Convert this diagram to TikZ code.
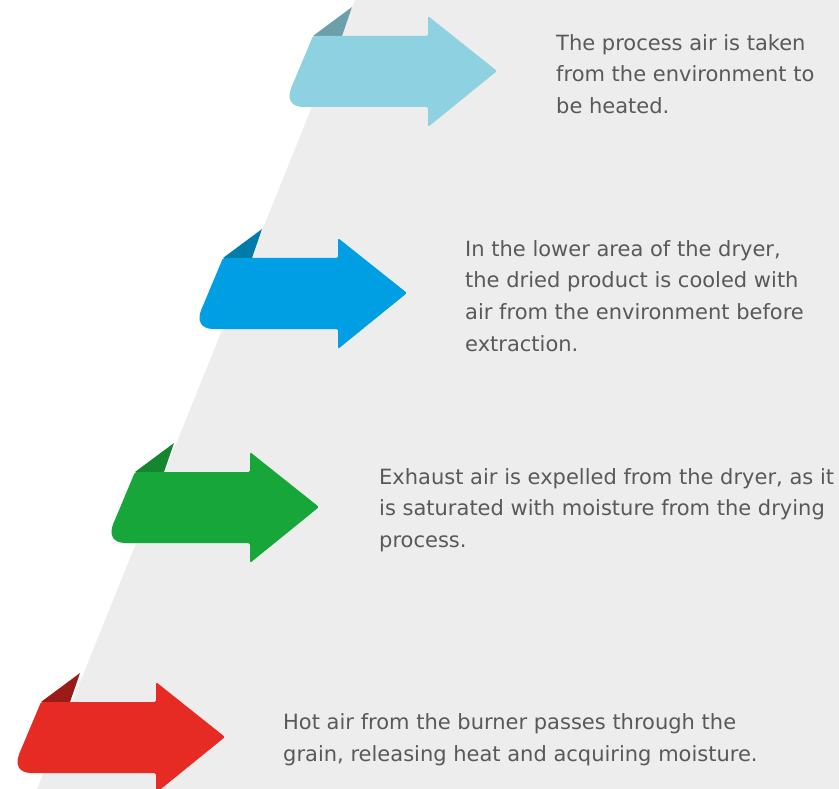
\documentclass[tikz,border=0pt]{standalone}
\usepackage{fontspec}
\setmainfont{DejaVu Sans}
\usetikzlibrary{positioning}
\definecolor{bggrey}{HTML}{EDEDED}
\definecolor{txtgrey}{HTML}{595959}
\definecolor{skyfill}{HTML}{8ED1E0}
\definecolor{skyfold}{HTML}{6B9FAA}
\definecolor{bluefill}{HTML}{009FE3}
\definecolor{bluefold}{HTML}{007BAA}
\definecolor{greenfill}{HTML}{17A63A}
\definecolor{greenfold}{HTML}{158530}
\definecolor{redfill}{HTML}{E52B23}
\definecolor{redfold}{HTML}{9B1B18}

% arrow with folded corner, #1 = tip, #2 = fill, #3 = fold
\newcommand{\flowarrow}[3]{%
  \begin{scope}[shift={#1}]
    \fill[#3] (-184,-35) -- (-145,-64) -- (-155,-35) -- cycle;
    \fill[#2, rounded corners=1.5pt] (-184,-35) -- (-69,-35) -- (-69,-55) -- (0,0)
      -- (-69,56) -- (-69,36) -- (-192,36) .. controls (-207,36) and (-210,27) .. (-205,15) -- cycle;
  \end{scope}}

\begin{document}
\begin{tikzpicture}[x=1pt, y=-1pt,
    desc/.style={inner sep=0pt, yshift=-3pt, align=left, text=txtgrey, font=\fontsize{21}{31.7}\selectfont}]
    \useasboundingbox (0,0) rectangle (839,789);
    % Background
    \fill[bggrey] (355,0) -- (839,0) -- (839,789) -- (37,789) -- cycle;

    % Arrows
    \coordinate (tip1) at (497,71);
    \coordinate (tip2) at (407,293);
    \coordinate (tip3) at (319,507);
    \coordinate (tip4) at (225,737);
    \flowarrow{(tip1)}{skyfill}{skyfold}
    \flowarrow{(tip2)}{bluefill}{bluefold}
    \flowarrow{(tip3)}{greenfill}{greenfold}
    \flowarrow{(tip4)}{redfill}{redfold}

    % Texts
    \node[desc, right=59pt of tip1] (txt1) {The process air is taken\\from the environment to\\be heated.};
    \node[desc, right=58pt of tip2] (txt2) {In the lower area of the dryer,\\the dried product is cooled with\\air from the environment before\\extraction.};
    \node[desc, right=60pt of tip3] (txt3) {Exhaust air is expelled from the dryer, as it\\is saturated with moisture from the drying\\process.};
    \node[desc, right=58pt of tip4] (txt4) {Hot air from the burner passes through the\\grain, releasing heat and acquiring moisture.};
\end{tikzpicture}
\end{document}
